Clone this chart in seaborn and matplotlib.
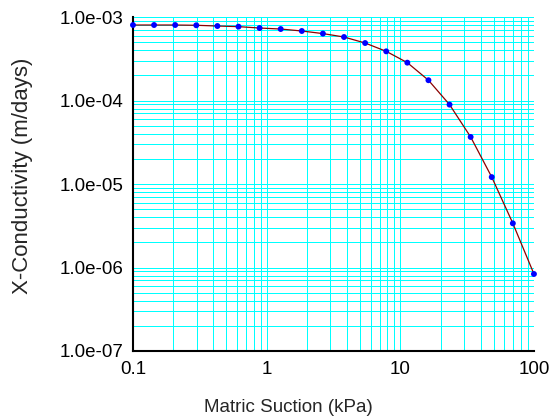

# кривая проводимости: X-Conductivity от Matric Suction (лог-лог)

import matplotlib
matplotlib.use('Agg')
import matplotlib.pyplot as plt
import matplotlib.ticker as mticker
import pandas as pd
import seaborn as sns

# Данные
suction = [0.1, 0.1438, 0.2069, 0.2976, 0.4281, 0.6158, 0.8859, 1.274, 1.833,
           2.637, 3.793, 5.456, 7.848, 11.29, 16.24, 23.36, 33.60, 48.33,
           69.52, 100.0]
conductivity = [8.02e-4, 8.02e-4, 8.02e-4, 7.96e-4, 7.80e-4, 7.67e-4, 7.38e-4,
                7.18e-4, 6.80e-4, 6.33e-4, 5.76e-4, 4.88e-4, 3.88e-4, 2.84e-4,
                1.75e-4, 8.93e-5, 3.66e-5, 1.21e-5, 3.38e-6, 8.36e-7]

x_ticks = [0.1, 1, 10, 100]
x_tick_labels = ['0.1', '1', '10', '100']
y_ticks = [1e-7, 1e-6, 1e-5, 1e-4, 1e-3]
y_tick_labels = ['1.0e-07', '1.0e-06', '1.0e-05', '1.0e-04', '1.0e-03']


def plot_conductivity() -> None:
    """
    Строит функцию проводимости в логарифмическом масштабе по обеим осям.
    """
    sns.set_style('white')
    plt.rcParams['font.family'] = ['Liberation Sans', 'DejaVu Sans']

    df = pd.DataFrame({'suction': suction, 'k': conductivity})

    fig = plt.figure(figsize=(5.52, 4.19), dpi=100)
    ax = fig.add_axes([0.2409, 0.1623, 0.7264, 0.7971])

    # линия и точки
    sns.lineplot(data=df, x='suction', y='k', color='#8B0000',
                 linewidth=0.9, ax=ax, zorder=3)
    sns.scatterplot(data=df, x='suction', y='k', color='#0000FF',
                    s=18, edgecolor='none', ax=ax, zorder=4, clip_on=False)

    ax.set_xscale('log')
    ax.set_yscale('log')
    ax.set_xlim(0.1, 100)
    ax.set_ylim(1e-7, 1e-3)

    ax.xaxis.set_major_locator(mticker.FixedLocator(x_ticks))
    ax.xaxis.set_major_formatter(mticker.FixedFormatter(x_tick_labels))
    ax.yaxis.set_major_locator(mticker.FixedLocator(y_ticks))
    ax.yaxis.set_major_formatter(mticker.FixedFormatter(y_tick_labels))
    ax.xaxis.set_minor_locator(mticker.LogLocator(base=10, subs=range(2, 10)))
    ax.yaxis.set_minor_locator(mticker.LogLocator(base=10, subs=range(2, 10)))
    ax.xaxis.set_minor_formatter(mticker.NullFormatter())
    ax.yaxis.set_minor_formatter(mticker.NullFormatter())

    # сетка голубая, и основная, и вспомогательная (1 px, без сглаживания)
    ax.grid(which='both', color='#00FFFF', linewidth=0.72, antialiased=False)
    ax.set_axisbelow(True)

    for side in ('top', 'right'):
        ax.spines[side].set_visible(False)
    for side in ('left', 'bottom'):
        ax.spines[side].set_color('black')
        ax.spines[side].set_linewidth(1.5)

    ax.tick_params(axis='x', which='major', direction='inout', length=8.6,
                   width=1.5, labelsize=13.5, pad=3, colors='black')
    ax.tick_params(axis='x', which='minor', direction='inout', length=4.6,
                   width=0.9, colors='black')
    ax.tick_params(axis='y', which='major', direction='inout', length=11,
                   width=1.5, labelsize=13.5, pad=1.5, colors='black')
    ax.tick_params(axis='y', which='minor', direction='inout', length=7,
                   width=0.9, colors='black')

    ax.set_xlabel('Matric Suction (kPa)', fontsize=13.5)
    ax.set_ylabel('X-Conductivity (m/days)', fontsize=16)
    ax.xaxis.set_label_coords(0.3865, -0.145)
    ax.yaxis.set_label_coords(-0.2486, 0.5254)

    fig.savefig('out.png', dpi=100)


if __name__ == '__main__':
    plot_conductivity()
